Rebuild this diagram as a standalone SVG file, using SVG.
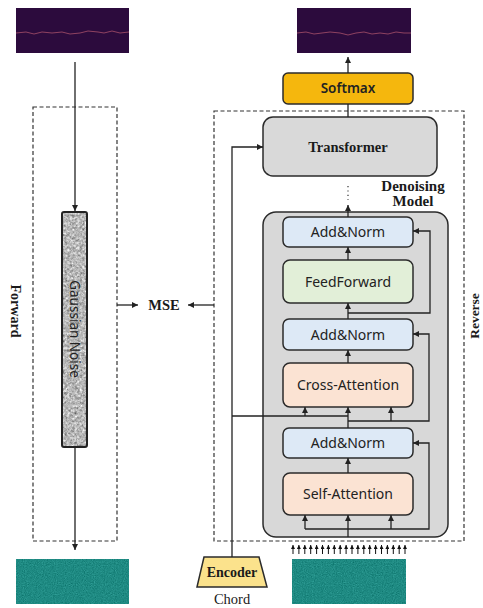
<svg xmlns="http://www.w3.org/2000/svg" width="483" height="608" viewBox="0 0 483 608">
  <style>
    .box { stroke: #2b2b2b; stroke-width: 1.5; }
    .dash { fill: none; stroke: #333; stroke-width: 1.2; stroke-dasharray: 4 2.5; }
    .wire { fill: none; stroke: #222; stroke-width: 1.3; }
    .arr { marker-end: url(#ah); }
    .tok { marker-end: url(#ahs); }
    .sans { font-family: "Noto Sans", "Open Sans", sans-serif; fill: #222; text-anchor: middle; }
    .serif { font-family: "Liberation Serif", "DejaVu Serif", serif; fill: #1a1a1a; text-anchor: middle; }
    .b { font-weight: bold; }
    .spec { fill: #2c0b3d; }
    .trace { fill: none; stroke: #a8506a; stroke-width: 0.8; }
  </style>
  <defs>
    <marker id="ah" viewBox="0 0 10 10" refX="10" refY="5" markerWidth="6" markerHeight="6" markerUnits="userSpaceOnUse" orient="auto">
      <path d="M0,0 L10,5 L0,10 Z" fill="#222"/>
    </marker>
    <marker id="ahs" viewBox="0 0 10 10" refX="10" refY="5" markerWidth="4" markerHeight="4" markerUnits="userSpaceOnUse" orient="auto">
      <path d="M0,0 L10,5 L0,10 Z" fill="#111"/>
    </marker>
    <!-- grainy grey texture for the noise bar -->
    <filter id="greyGrain" x="0" y="0" width="100%" height="100%" color-interpolation-filters="sRGB">
      <feTurbulence type="fractalNoise" baseFrequency="0.4" numOctaves="3" seed="7" result="t"/>
      <feColorMatrix in="t" type="matrix" values="0.33 0.33 0.33 0 0  0.33 0.33 0.33 0 0  0.33 0.33 0.33 0 0  0 0 0 0 1" result="g"/>
      <feComponentTransfer in="g" result="c">
        <feFuncR type="linear" slope="1.25" intercept="0.1"/>
        <feFuncG type="linear" slope="1.25" intercept="0.1"/>
        <feFuncB type="linear" slope="1.25" intercept="0.1"/>
      </feComponentTransfer>
      <feComposite in="c" in2="SourceGraphic" operator="in"/>
    </filter>
    <!-- teal noise texture for latent images -->
    <filter id="tealGrain" x="0" y="0" width="100%" height="100%" color-interpolation-filters="sRGB">
      <feTurbulence type="fractalNoise" baseFrequency="0.9" numOctaves="2" seed="3" result="t"/>
      <feColorMatrix in="t" type="matrix" values="0.1 0.1 0.1 0 -0.03  0.12 0.12 0.12 0 0.36  0.12 0.12 0.12 0 0.33  0 0 0 0 1" result="c"/>
      <feComposite in="c" in2="SourceGraphic" operator="in"/>
    </filter>
  </defs>

  <!-- spectrogram images -->
  <g id="spec-in">
    <rect class="spec" x="16" y="8" width="113" height="45"/>
    <polyline class="trace" points="16,33 26,32 34,34 42,32 52,33 62,32 70,34 80,33 88,31 98,32 104,33 112,31 120,33 129,32"/>
  </g>
  <g id="spec-out">
    <rect class="spec" x="297" y="8" width="114" height="45"/>
    <polyline class="trace" points="297,33 306,32 314,34 322,33 330,32 340,33 348,35 356,33 364,32 372,34 380,33 388,34 396,32 404,33 411,33"/>
  </g>

  <!-- forward process -->
  <g id="forward">
    <rect class="dash" x="33" y="107" width="84" height="434"/>
    <text class="serif b" font-size="14" transform="translate(11,311) rotate(90)">Forward</text>
  </g>
  <g id="gaussian-noise">
    <rect x="62" y="212" width="25" height="235" rx="2" fill="#b0b0b0" filter="url(#greyGrain)"/>
    <rect x="62" y="212" width="25" height="235" rx="2" fill="none" stroke="#222" stroke-width="2"/>
    <text class="sans" font-size="13.5" fill="#111" transform="translate(74.5,329) rotate(90)" y="4.8">Gaussian Noise</text>
  </g>
  <g id="latent-noisy">
    <rect x="16" y="559" width="113" height="45" fill="#1e8a83" filter="url(#tealGrain)"/>
  </g>

  <g id="mse">
    <text class="serif b" font-size="14.5" x="164" y="310">MSE</text>
  </g>

  <!-- reverse process -->
  <g id="reverse">
    <rect class="dash" x="214" y="111" width="250" height="430"/>
    <text class="serif b" font-size="13.5" transform="translate(479,316) rotate(-90)">Reverse</text>
  </g>

  <g id="softmax">
    <rect class="box" x="283" y="73" width="130" height="31" rx="5" fill="#f5b70d"/>
    <text class="sans" font-size="13.5" font-weight="600" x="348" y="93">Softmax</text>
  </g>

  <g id="transformer">
    <rect class="box" x="263" y="117" width="174" height="59" rx="10" fill="#d9d9d9"/>
    <text class="serif b" font-size="14.5" x="348" y="152">Transformer</text>
  </g>

  <g id="denoising-label">
    <text class="serif" font-size="15" font-weight="600" x="413" y="191">Denoising</text>
    <text class="serif" font-size="15" font-weight="600" x="413" y="206">Model</text>
  </g>

  <g id="block">
    <rect class="box" x="263" y="212" width="185" height="325" rx="13" fill="#d8d8d8"/>
  </g>

  <g id="add-norm-3">
    <rect class="box" x="283" y="217" width="130" height="30" rx="6" fill="#dde9f6"/>
    <text class="sans" font-size="14" x="348" y="237">Add&amp;Norm</text>
  </g>
  <g id="feed-forward">
    <rect class="box" x="283" y="260" width="130" height="43" rx="7" fill="#e2efd8"/>
    <text class="sans" font-size="14" x="348" y="286.5">FeedForward</text>
  </g>
  <g id="add-norm-2">
    <rect class="box" x="283" y="319" width="130" height="31" rx="6" fill="#dde9f6"/>
    <text class="sans" font-size="14" x="348" y="339.5">Add&amp;Norm</text>
  </g>
  <g id="cross-attention">
    <rect class="box" x="283" y="363" width="130" height="44" rx="7" fill="#fbe3d3"/>
    <text class="sans" font-size="14" x="348" y="390">Cross-Attention</text>
  </g>
  <g id="add-norm-1">
    <rect class="box" x="283" y="428" width="130" height="30" rx="6" fill="#dde9f6"/>
    <text class="sans" font-size="14" x="348" y="448">Add&amp;Norm</text>
  </g>
  <g id="self-attention">
    <rect class="box" x="283" y="473" width="130" height="42" rx="7" fill="#fbe3d3"/>
    <text class="sans" font-size="14" x="348" y="499">Self-Attention</text>
  </g>

  <g id="encoder">
    <polygon class="box" points="204,557 259,557 267,587 197,587" fill="#fbe28c"/>
    <text class="serif b" font-size="14" x="232" y="577">Encoder</text>
    <text class="serif" font-size="14.5" x="232" y="604">Chord</text>
  </g>

  <g id="latent-input">
    <rect x="292" y="559" width="114" height="45" fill="#1e8a83" filter="url(#tealGrain)"/>
  </g>

  <!-- connectors -->
  <g id="connectors">
    <path class="wire arr" d="M75,62 V211"/>
    <path class="wire arr" d="M75,447 V550"/>
    <path class="wire arr" d="M117,305 H138"/>
    <path class="wire arr" d="M214,305 H188"/>
    <path class="wire arr" d="M348,73 V57"/>
    <path class="wire" d="M348,104 V117"/>
    <path class="wire arr" d="M232,557 V147 H263"/>
    <path class="wire" d="M232,416 H348"/>
    <path class="wire arr" d="M305,416 V407"/>
    <path class="wire arr" d="M348,428 V407"/>
    <path class="wire arr" d="M391,421 V407"/>
    <path class="wire arr" d="M348,421 H429 V334 H413"/>
    <path class="wire arr" d="M348,363 V350"/>
    <path class="wire arr" d="M348,319 V303"/>
    <path class="wire arr" d="M348,313 H430 V231 H413"/>
    <path class="wire arr" d="M348,260 V247"/>
    <path class="wire arr" d="M348,217 V205"/>
    <path d="M348,186 V200" fill="none" stroke="#333" stroke-width="1.2" stroke-dasharray="1.2 3.2"/>
    <path class="wire arr" d="M348,473 V458"/>
    <path class="wire" d="M348,537 V529"/>
    <path class="wire arr" d="M305,529 H429 V443 H413"/>
    <path class="wire arr" d="M305,529 V515"/>
    <path class="wire arr" d="M348,529 V515"/>
    <path class="wire arr" d="M391,529 V515"/>
    <g id="token-arrows" stroke="#111" stroke-width="1">
      <path class="tok" d="M293,554 V545"/><path class="tok" d="M298.9,554 V545"/><path class="tok" d="M304.8,554 V545"/><path class="tok" d="M310.7,554 V545"/><path class="tok" d="M316.6,554 V545"/>
      <path class="tok" d="M322.5,554 V545"/><path class="tok" d="M328.4,554 V545"/><path class="tok" d="M334.3,554 V545"/><path class="tok" d="M340.2,554 V545"/><path class="tok" d="M346.1,554 V545"/>
      <path class="tok" d="M352,554 V545"/><path class="tok" d="M357.9,554 V545"/><path class="tok" d="M363.8,554 V545"/><path class="tok" d="M369.7,554 V545"/><path class="tok" d="M375.6,554 V545"/>
      <path class="tok" d="M381.5,554 V545"/><path class="tok" d="M387.4,554 V545"/><path class="tok" d="M393.3,554 V545"/><path class="tok" d="M399.2,554 V545"/><path class="tok" d="M405,554 V545"/>
    </g>
  </g>
</svg>
